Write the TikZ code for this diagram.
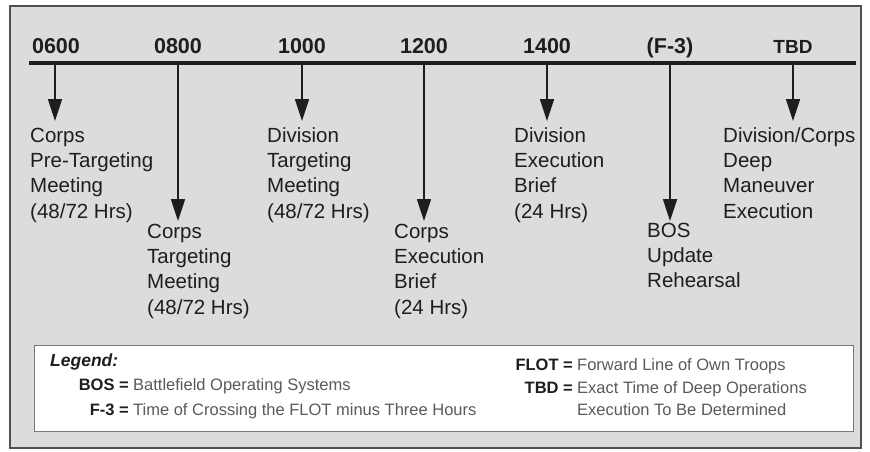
\documentclass[tikz,border=0pt]{standalone}
\usepackage{fontspec}
\setmainfont{Liberation Sans}
\usetikzlibrary{arrows.meta}
\definecolor{panel}{RGB}{220,220,220}
\definecolor{framec}{RGB}{80,80,80}
\definecolor{inkc}{RGB}{30,30,30}
\definecolor{legc}{RGB}{90,90,90}
\definecolor{legb}{RGB}{120,120,120}
\tikzset{
  hour/.style={anchor=base, inner sep=0pt, text=inkc, font=\fontsize{21.5}{24}\selectfont\bfseries},
  evt/.style={anchor=base west, inner sep=0pt, align=left, text=inkc, font=\fontsize{20.5}{25.4}\selectfont},
  drop/.style={draw=inkc, line width=1.7pt, -{Triangle[width=14pt,length=22pt]}},
  legtxt/.style={anchor=base west, inner sep=0pt, align=left, text=legc, font=\fontsize{16.5}{21.5}\selectfont},
  legkey/.style={anchor=base east, inner sep=0pt, text=inkc, font=\fontsize{16.5}{21.5}\selectfont\bfseries},
}
\begin{document}
\begin{tikzpicture}[x=1pt,y=-1pt]
\useasboundingbox (0,0) rectangle (870,451);
\fill[white] (0,0) rectangle (870,451);
% outer panel
\draw[framec, fill=panel, line width=1.5pt] (10,6) rectangle (861,448);
% timeline
\coordinate (L) at (29,63);
\coordinate (R) at (856,63);
\draw[inkc, line width=3.5pt] (L) -- (R);
% hours
\node[hour] (h1) at (56,53) {0600};
\node[hour] (h2) at (178,53) {0800};
\node[hour] (h3) at (302,53) {1000};
\node[hour] (h4) at (424,53) {1200};
\node[hour] (h5) at (547,53) {1400};
\node[hour] (h6) at (670,53) {(F-3)};
\node[hour, font=\fontsize{19}{22}\selectfont\bfseries] (h7) at (793,53) {TBD};
% arrow coordinates
\coordinate (s1) at (55,63);  \coordinate (e1) at (55,121);
\coordinate (s2) at (178,63); \coordinate (e2) at (178,221);
\coordinate (s3) at (302,63); \coordinate (e3) at (302,121);
\coordinate (s4) at (424,63); \coordinate (e4) at (424,221);
\coordinate (s5) at (547,63); \coordinate (e5) at (547,121);
\coordinate (s6) at (670,63); \coordinate (e6) at (670,221);
\coordinate (s7) at (793,63); \coordinate (e7) at (793,121);
\draw[drop] (s1) -- (e1);
\draw[drop] (s2) -- (e2);
\draw[drop] (s3) -- (e3);
\draw[drop] (s4) -- (e4);
\draw[drop] (s5) -- (e5);
\draw[drop] (s6) -- (e6);
\draw[drop] (s7) -- (e7);
% events (anchor = baseline of the last line)
\node[evt] (b1) at (30,218.2) {Corps\\Pre-Targeting\\Meeting\\(48/72 Hrs)};
\node[evt] (b2) at (147,314.2) {Corps\\Targeting\\Meeting\\(48/72 Hrs)};
\node[evt] (b3) at (267,218.2) {Division\\Targeting\\Meeting\\(48/72 Hrs)};
\node[evt] (b4) at (394,314.2) {Corps\\Execution\\Brief\\(24 Hrs)};
\node[evt] (b5) at (514,218.2) {Division\\Execution\\Brief\\(24 Hrs)};
\node[evt] (b6) at (647,287.8) {BOS\\Update\\Rehearsal};
\node[evt] (b7) at (723,218.2) {Division/Corps\\Deep\\Maneuver\\Execution};
% legend
\draw[legb, fill=white, line width=1pt] (34,345) rectangle (853,431);
\node[anchor=base west, inner sep=0pt, text=inkc, font=\fontsize{17.5}{21}\selectfont\bfseries\itshape] (lg) at (50,366) {Legend:};
\node[legkey] (k1) at (129,390) {BOS =};
\node[legtxt] (d1) at (133,390) {Battlefield Operating Systems};
\node[legkey] (k2) at (129,415) {F-3 =};
\node[legtxt] (d2) at (133,415) {Time of Crossing the FLOT minus Three Hours};
\node[legkey] (k3) at (573,370) {FLOT =};
\node[legtxt] (d3) at (577,370) {Forward Line of Own Troops};
\node[legkey] (k4) at (573,393.5) {TBD =};
\node[legtxt] (d4) at (577,415) {Exact Time of Deep Operations\\Execution To Be Determined};
\end{tikzpicture}
\end{document}
